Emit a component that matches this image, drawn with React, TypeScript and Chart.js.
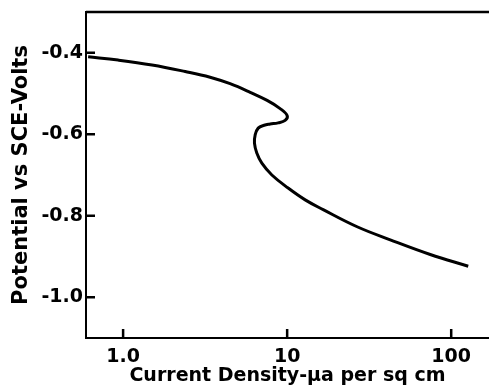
import React, { useEffect, useRef } from "react";
import { Chart, registerables } from "chart.js";

Chart.register(...registerables);

// Polarization curve: current density (µA/cm²) vs potential (V vs SCE)
const currentDensity = [
  0.612, 0.932, 1.5, 2.39, 3.39, 4.49, 5.95, 7.55, 9.06, 10.0, 9.72, 8.81,
  7.88, 7.24, 6.66, 6.38, 6.32, 6.53, 7.01, 8.07, 10.14, 12.88, 16.58, 26.7,
  42.5, 74.5, 127,
];
const potential = [
  -0.41, -0.418, -0.43, -0.446, -0.46, -0.476, -0.497, -0.517, -0.537,
  -0.554, -0.566, -0.572, -0.575, -0.578, -0.585, -0.602, -0.622, -0.646,
  -0.671, -0.7, -0.732, -0.761, -0.785, -0.827, -0.859, -0.895, -0.924,
];
const xTicks = [1, 10, 100];
const xTickLabels = ["1.0", "10", "100"];
const yTicks = [-0.4, -0.6, -0.8, -1.0];
const yTickLabels = ["-0.4", "-0.6", "-0.8", "-1.0"];

const FONT = "'DejaVu Sans', 'Liberation Sans', sans-serif";

// Frame top line and inward tick marks
const framePlugin = {
  id: "frame",
  afterDraw(chart: any) {
    const { ctx, chartArea, scales } = chart;
    ctx.save();
    ctx.strokeStyle = "#000";
    ctx.lineWidth = 2.5;
    ctx.beginPath();
    ctx.moveTo(chartArea.left, chartArea.top);
    ctx.lineTo(chartArea.right, chartArea.top);
    for (const v of yTicks) {
      const y = scales.y.getPixelForValue(v);
      ctx.moveTo(chartArea.left, y);
      ctx.lineTo(chartArea.left + 9, y);
    }
    for (const v of xTicks) {
      const x = scales.x.getPixelForValue(v);
      ctx.moveTo(x, chartArea.bottom);
      ctx.lineTo(x, chartArea.bottom - 9);
    }
    ctx.stroke();
    ctx.restore();
  },
};

export default function App() {
  const canvasRef = useRef<HTMLCanvasElement | null>(null);

  useEffect(() => {
    document.body.style.margin = "0";
    const canvas = canvasRef.current;
    if (!canvas) return;
    const chart = new Chart(canvas, {
      type: "scatter",
      data: {
        datasets: [
          {
            data: currentDensity.map((x, i) => ({ x, y: potential[i] })),
            showLine: true,
            borderColor: "#000",
            borderWidth: 3,
            pointRadius: 0,
            tension: 0.4,
            fill: false,
          },
        ],
      },
      options: {
        animation: false,
        responsive: false,
        maintainAspectRatio: false,
        layout: { padding: { top: 12, right: 0, left: 0, bottom: 0 } },
        plugins: {
          legend: { display: false },
          tooltip: { enabled: false },
        },
        scales: {
          x: {
            type: "logarithmic",
            min: 0.594,
            max: 170,
            afterBuildTicks: (s: any) => {
              s.ticks = xTicks.map((v) => ({ value: v }));
            },
            afterFit: (s: any) => {
              s.height = 51;
              s.paddingLeft = 0;
              s.paddingRight = 0;
            },
            grid: { display: false, tickLength: 0 },
            border: { display: true, color: "#000", width: 2 },
            ticks: {
              color: "#000",
              padding: 8,
              maxRotation: 0,
              autoSkip: false,
              font: { family: FONT, size: 19, weight: "bold" },
              callback: (v: any) => {
                const i = xTicks.indexOf(Number(v));
                return i >= 0 ? xTickLabels[i] : "";
              },
            },
            title: {
              display: true,
              text: "Current Density-\u03bca per sq cm",
              color: "#000",
              padding: { top: 0, bottom: 2 },
              font: { family: FONT, size: 19, weight: "bold" },
            },
          },
          y: {
            type: "linear",
            min: -1.1,
            max: -0.3,
            afterBuildTicks: (s: any) => {
              s.ticks = yTicks.map((v) => ({ value: v }));
            },
            afterFit: (s: any) => {
              s.width = 86;
              s.paddingTop = 0;
              s.paddingBottom = 0;
            },
            grid: { display: false, tickLength: 0 },
            border: { display: true, color: "#000", width: 2 },
            ticks: {
              color: "#000",
              padding: 3,
              autoSkip: false,
              font: { family: FONT, size: 19, weight: "bold" },
              callback: (v: any) => {
                const i = yTicks.findIndex((t) => Math.abs(t - Number(v)) < 1e-6);
                return i >= 0 ? yTickLabels[i] : "";
              },
            },
            title: {
              display: true,
              text: "Potential vs SCE-Volts",
              color: "#000",
              padding: { top: 9, bottom: 0 },
              font: { family: FONT, size: 21, weight: "bold" },
            },
          },
        },
      },
      plugins: [framePlugin],
    });
    return () => chart.destroy();
  }, []);

  return (
    <div style={{ position: "fixed", left: 0, top: 0, width: 489, height: 389, background: "#fff" }}>
      <canvas ref={canvasRef} width={489} height={389} style={{ width: 489, height: 389 }} />
    </div>
  );
}
